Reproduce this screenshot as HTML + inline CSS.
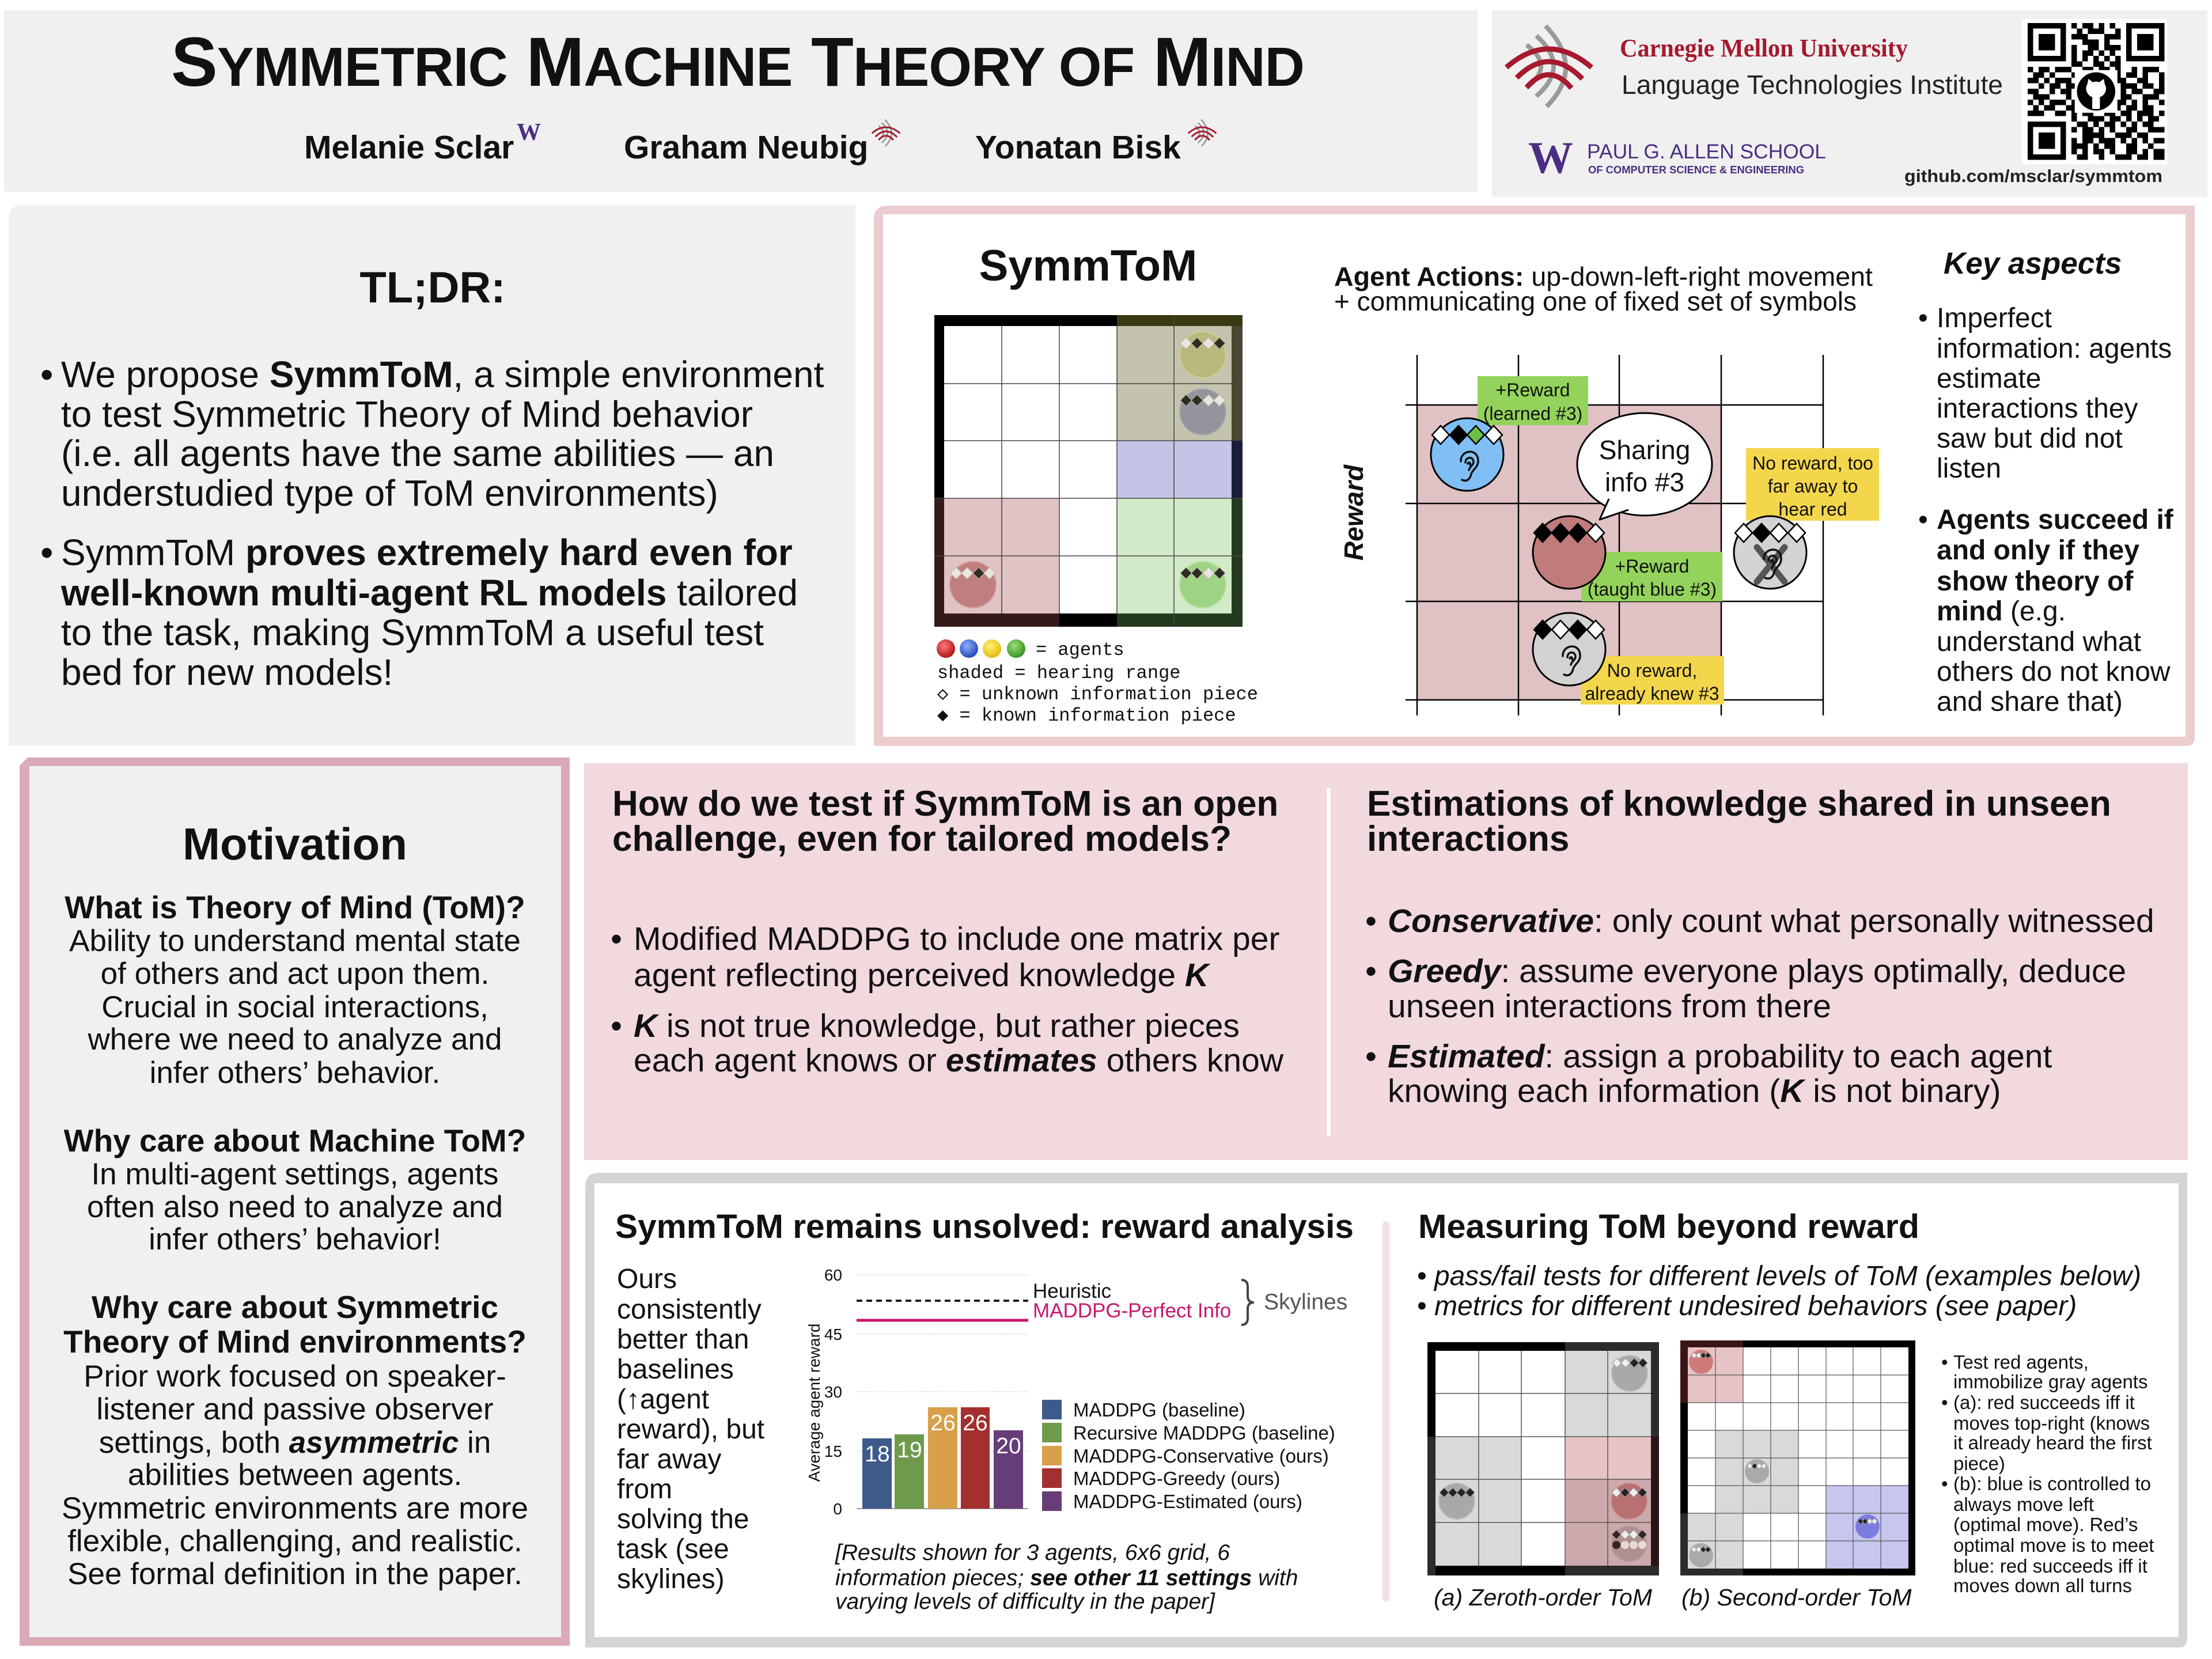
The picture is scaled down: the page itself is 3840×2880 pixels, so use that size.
<!DOCTYPE html>
<html><head><meta charset="utf-8">
<style>
html,body{margin:0;padding:0;background:#fff;}
svg{display:block;}
text{font-family:"Liberation Sans","DejaVu Sans",sans-serif;fill:#111;}
.mono{font-family:"Liberation Mono","DejaVu Sans Mono",monospace;}
.serif{font-family:"Liberation Serif","DejaVu Serif",serif;}
.b{font-weight:bold;}
.i{font-style:italic;}
</style></head><body>
<svg width="3840" height="2880" viewBox="0 0 3840 2880" xmlns="http://www.w3.org/2000/svg">
<defs>
 <g id="cmu" fill="none">
  <path d="M70 2 Q139 74 72 142" stroke="#9a9a9a" stroke-width="8"/>
  <path d="M54 19 Q114 72 54 124" stroke="#9a9a9a" stroke-width="8"/>
  <path d="M37 35 Q87 72 37 109" stroke="#9a9a9a" stroke-width="8"/>
  <path d="M2 74 Q75 10 150 74" stroke="#a6192e" stroke-width="9"/>
  <path d="M20 92 Q77 35 134 94" stroke="#a6192e" stroke-width="9"/>
  <path d="M37 109 Q76 64 115 110" stroke="#a6192e" stroke-width="9"/>
 </g>
 <g id="ear" fill="none" stroke="#111" stroke-width="3.5" stroke-linecap="round">
  <path d="M-13 -6 C-14 -26 16 -30 17 -8 C18 4 7 8 5 16 C3 25 -3 30 -11 26"/>
  <path d="M-5 -4 C-5 -15 9 -15 9 -5 C9 1 2 3 1 9"/>
  <path d="M-1 -2 C1 -6 4 -4 3 0"/>
 </g>
 <path id="dmL" d="M0 -16 L15 0 L0 16 L-15 0Z" stroke="#000" stroke-width="2.5"/>
 <path id="dmM" d="M0 -10 L10 0 L0 10 L-10 0Z"/>
 <path id="dmS" d="M0 -8 L8 0 L0 8 L-8 0Z"/>
 <path id="dmXS" d="M0 -5 L5 0 L0 5 L-5 0Z"/>
 <radialGradient id="gR" cx="40%" cy="35%" r="70%"><stop offset="0" stop-color="#ff7a7a"/><stop offset="1" stop-color="#a80f12"/></radialGradient>
 <radialGradient id="gB" cx="40%" cy="35%" r="70%"><stop offset="0" stop-color="#8fb0ff"/><stop offset="1" stop-color="#1d3fb8"/></radialGradient>
 <radialGradient id="gY" cx="40%" cy="35%" r="70%"><stop offset="0" stop-color="#fff27a"/><stop offset="1" stop-color="#e0b800"/></radialGradient>
 <radialGradient id="gG" cx="40%" cy="35%" r="70%"><stop offset="0" stop-color="#9be07a"/><stop offset="1" stop-color="#2f8c1c"/></radialGradient>
</defs>

<!-- ============ HEADER ============ -->
<rect x="7" y="18" width="2558" height="315" fill="#f0f0f0"/>
<rect x="2590" y="18" width="1242" height="324" fill="#f0f0f0"/>

<text x="297" y="149" class="b" font-size="121" textLength="1968" lengthAdjust="spacing">S<tspan font-size="96">YMMETRIC</tspan> M<tspan font-size="96">ACHINE</tspan> T<tspan font-size="96">HEORY OF</tspan> M<tspan font-size="96">IND</tspan></text>

<text x="528" y="275" class="b" font-size="57">Melanie Sclar</text>
<text x="897" y="243" class="serif b" font-size="42" style="fill:#4b2e83">W</text>
<text x="1083" y="275" class="b" font-size="57">Graham Neubig</text>
<use href="#cmu" transform="translate(1513,207) scale(0.33)"/>
<text x="1693" y="275" class="b" font-size="57">Yonatan Bisk</text>
<use href="#cmu" transform="translate(2062,207) scale(0.33)"/>

<use href="#cmu" transform="translate(2613,43)"/>
<text x="2812" y="98" class="serif b" font-size="44" textLength="500" lengthAdjust="spacingAndGlyphs" style="fill:#a6192e">Carnegie Mellon University</text>
<text x="2815" y="163" font-size="46" textLength="662" lengthAdjust="spacingAndGlyphs" style="fill:#222">Language Technologies Institute</text>
<text x="2653" y="300" class="serif b" font-size="78" style="fill:#4b2e83">W</text>
<text x="2755" y="275" font-size="35" textLength="415" lengthAdjust="spacingAndGlyphs" style="fill:#4b2e83">PAUL G. ALLEN SCHOOL</text>
<text x="2757" y="301" class="b" font-size="18" textLength="375" lengthAdjust="spacingAndGlyphs" style="fill:#4b2e83">OF COMPUTER SCIENCE &amp; ENGINEERING</text>

<rect x="3510" y="33" width="252" height="252" fill="#fff"/>
<g transform="translate(3520,40) scale(9.5)" fill="#000">
 <path fill-rule="evenodd" d="M0 0h7v7h-7zM1 1h5v5h-5zM2 2h3v3h-3zM18 0h7v7h-7zM19 1h5v5h-5zM20 2h3v3h-3zM0 18h7v7h-7zM1 19h5v5h-5zM2 20h3v3h-3z"/>
 <path d="M8 0h1v1h-1zM10 0h2v1h-2zM13 0h1v1h-1zM15 0h1v1h-1zM9 1h1v1h-1zM11 1h3v1h-3zM16 1h1v1h-1zM8 2h3v1h-3zM14 2h3v1h-3zM10 3h3v1h-3zM14 3h1v1h-1zM8 4h1v1h-1zM11 4h2v1h-2zM14 4h3v1h-3zM8 5h1v1h-1zM10 5h2v1h-2zM13 5h1v1h-1zM15 5h1v1h-1zM8 6h1v1h-1zM10 6h1v1h-1zM12 6h1v1h-1zM14 6h1v1h-1zM16 6h1v1h-1zM8 7h2v1h-2zM12 7h2v1h-2zM15 7h2v1h-2zM0 8h1v1h-1zM2 8h2v1h-2zM5 8h3v1h-3zM10 8h2v1h-2zM13 8h2v1h-2zM16 8h1v1h-1zM19 8h1v1h-1zM21 8h3v1h-3zM1 9h2v1h-2zM4 9h1v1h-1zM8 9h3v1h-3zM12 9h1v1h-1zM15 9h2v1h-2zM18 9h2v1h-2zM21 9h1v1h-1zM24 9h1v1h-1zM0 10h2v1h-2zM3 10h1v1h-1zM5 10h3v1h-3zM11 10h4v1h-4zM16 10h2v1h-2zM20 10h2v1h-2zM24 10h1v1h-1zM2 11h1v1h-1zM4 11h2v1h-2zM7 11h3v1h-3zM17 11h3v1h-3zM21 11h2v1h-2zM24 11h1v1h-1zM0 12h2v1h-2zM4 12h1v1h-1zM6 12h2v1h-2zM17 12h1v1h-1zM19 12h2v1h-2zM23 12h2v1h-2zM1 13h3v1h-3zM7 13h1v1h-1zM17 13h2v1h-2zM21 13h3v1h-3zM0 14h1v1h-1zM2 14h1v1h-1zM4 14h3v1h-3zM8 14h2v1h-2zM16 14h2v1h-2zM19 14h1v1h-1zM21 14h1v1h-1zM24 14h1v1h-1zM1 15h1v1h-1zM3 15h2v1h-2zM7 15h3v1h-3zM11 15h3v1h-3zM15 15h2v1h-2zM18 15h2v1h-2zM21 15h2v1h-2zM0 16h3v1h-3zM5 16h2v1h-2zM8 16h1v1h-1zM10 16h2v1h-2zM14 16h2v1h-2zM17 16h2v1h-2zM20 16h3v1h-3zM24 16h1v1h-1zM8 17h1v1h-1zM11 17h3v1h-3zM15 17h2v1h-2zM18 17h1v1h-1zM20 17h1v1h-1zM22 17h2v1h-2zM9 18h2v1h-2zM12 18h1v1h-1zM14 18h2v1h-2zM17 18h1v1h-1zM19 18h1v1h-1zM21 18h2v1h-2zM8 19h1v1h-1zM10 19h2v1h-2zM13 19h1v1h-1zM15 19h1v1h-1zM18 19h2v1h-2zM22 19h3v1h-3zM10 20h4v1h-4zM16 20h3v1h-3zM20 20h2v1h-2zM8 21h1v1h-1zM10 21h2v1h-2zM13 21h3v1h-3zM17 21h1v1h-1zM19 21h1v1h-1zM21 21h1v1h-1zM23 21h2v1h-2zM8 22h3v1h-3zM12 22h1v1h-1zM14 22h2v1h-2zM18 22h2v1h-2zM22 22h1v1h-1zM8 23h1v1h-1zM10 23h1v1h-1zM12 23h2v1h-2zM15 23h1v1h-1zM18 23h2v1h-2zM21 23h1v1h-1zM23 23h2v1h-2zM9 24h2v1h-2zM13 24h1v1h-1zM16 24h3v1h-3zM20 24h2v1h-2zM23 24h2v1h-2z"/>
 <rect x="8.6" y="8.6" width="7.8" height="7.8" fill="#fff"/>
 <circle cx="12.5" cy="12.5" r="3.5" fill="#000"/>
 <path d="M10.9 11.2 L11.1 10.2 L11.9 10.8 Q12.5 10.6 13.1 10.8 L13.9 10.2 L14.1 11.2 Q14.5 11.8 14.2 12.6 Q13.8 13.4 13.2 13.5 L13.2 15.7 L11.8 15.7 L11.8 13.5 Q11.2 13.4 10.8 12.6 Q10.5 11.8 10.9 11.2Z" fill="#fff"/>
</g>
<text x="3306" y="316" class="b" font-size="31" textLength="448" lengthAdjust="spacingAndGlyphs" style="fill:#222">github.com/msclar/symmtom</text>

<!-- ============ TL;DR ============ -->
<path d="M15 380 Q15 356 39 356 H1485 V1294 H15 Z" fill="#eff0f2"/>
<text x="751" y="525" class="b" font-size="76" text-anchor="middle">TL;DR:</text>
<g font-size="64">
 <text x="70" y="672">•</text>
 <text x="106" y="672">We propose <tspan class="b">SymmToM</tspan>, a simple environment</text>
 <text x="106" y="741">to test Symmetric Theory of Mind behavior</text>
 <text x="106" y="809">(i.e. all agents have the same abilities — an</text>
 <text x="106" y="878">understudied type of ToM environments)</text>
 <text x="70" y="981">•</text>
 <text x="106" y="981">SymmToM <tspan class="b">proves extremely hard even for</tspan></text>
 <text x="106" y="1051"><tspan class="b">well-known multi-agent RL models</tspan> tailored</text>
 <text x="106" y="1120">to the task, making SymmToM a useful test</text>
 <text x="106" y="1189">bed for new models!</text>
</g>

<!-- ============ SymmToM panel ============ -->
<path d="M1517 381 Q1517 357 1541 357 H3810 V1280 Q3810 1295 3795 1295 H1517 Z" fill="#ebcdd0"/>
<rect x="1533" y="372" width="2261" height="907" fill="#fff"/>
<text x="1889" y="487" class="b" font-size="76" text-anchor="middle">SymmToM</text>

<!-- grid -->
<rect x="1622" y="547" width="535" height="541" fill="#000"/>
<rect x="1939" y="547" width="218" height="19" fill="#3a3a12"/>
<rect x="2138" y="566" width="19" height="199" fill="#4a4632"/>
<rect x="2138" y="765" width="19" height="100" fill="#1b1b3b"/>
<rect x="2138" y="865" width="19" height="223" fill="#243a1e"/>
<rect x="1939" y="1065" width="218" height="23" fill="#243a1e"/>
<rect x="1622" y="865" width="17" height="223" fill="#351a1a"/>
<rect x="1622" y="1065" width="217" height="23" fill="#351a1a"/>
<rect x="1639" y="566" width="499" height="499" fill="#fff"/>
<rect x="1939" y="566" width="199" height="199" fill="#c4c3ad"/>
<rect x="1939" y="765" width="199" height="100" fill="#c4c4e6"/>
<rect x="1639" y="865" width="200" height="200" fill="#e0c3c5"/>
<rect x="1939" y="865" width="199" height="200" fill="#d2eac8"/>
<g stroke="#444" stroke-width="1.5">
 <line x1="1739" y1="566" x2="1739" y2="1065"/><line x1="1839" y1="566" x2="1839" y2="1065"/>
 <line x1="1939" y1="566" x2="1939" y2="1065"/><line x1="2038" y1="547" x2="2038" y2="1088"/>
 <line x1="1639" y1="666" x2="2138" y2="666"/><line x1="1639" y1="765" x2="2138" y2="765"/>
 <line x1="1622" y1="865" x2="2157" y2="865"/><line x1="1622" y1="965" x2="2157" y2="965"/>
</g>
<circle cx="2088" cy="616" r="40" fill="#b9b97b" stroke="#cfcf9a" stroke-width="2"/>
<circle cx="2088" cy="715" r="40" fill="#94949d" stroke="#aaaab0" stroke-width="2"/>
<circle cx="1689" cy="1015" r="40" fill="#c17e7e" stroke="#d09a9a" stroke-width="2"/>
<circle cx="2088" cy="1015" r="40" fill="#9fd487" stroke="#b5e0a0" stroke-width="2"/>
<g stroke="#bdb6ad" stroke-width="1">
 <use href="#dmM" x="2059" y="596" fill="#e9e5df"/><use href="#dmM" x="2078" y="596" fill="#2d2d20"/><use href="#dmM" x="2098" y="596" fill="#e9e5df"/><use href="#dmM" x="2117" y="596" fill="#2d2d20"/>
 <use href="#dmM" x="2059" y="695" fill="#2d2d20"/><use href="#dmM" x="2078" y="695" fill="#2d2d20"/><use href="#dmM" x="2098" y="695" fill="#e9e5df"/><use href="#dmM" x="2117" y="695" fill="#e9e5df"/>
 <use href="#dmM" x="1660" y="995" fill="#e9e5df"/><use href="#dmM" x="1679" y="995" fill="#e9e5df"/><use href="#dmM" x="1699" y="995" fill="#2d2d20"/><use href="#dmM" x="1718" y="995" fill="#e9e5df"/>
 <use href="#dmM" x="2059" y="995" fill="#2d2d20"/><use href="#dmM" x="2078" y="995" fill="#2d2d20"/><use href="#dmM" x="2098" y="995" fill="#e9e5df"/><use href="#dmM" x="2117" y="995" fill="#2d2d20"/>
</g>
<!-- legend -->
<circle cx="1642" cy="1126" r="16" fill="url(#gR)"/>
<circle cx="1682" cy="1126" r="16" fill="url(#gB)"/>
<circle cx="1722" cy="1126" r="16" fill="url(#gY)"/>
<circle cx="1764" cy="1126" r="16" fill="url(#gG)"/>
<g class="mono" font-size="32">
 <text x="1798" y="1137" class="mono">= agents</text>
 <text x="1627" y="1177" class="mono">shaded = hearing range</text>
 <text x="1627" y="1214" class="mono">◇ = unknown information piece</text>
 <text x="1627" y="1251" class="mono">◆ = known information piece</text>
</g>

<!-- agent actions -->
<text x="2316" y="496" font-size="46" textLength="935" lengthAdjust="spacingAndGlyphs"><tspan class="b">Agent Actions:</tspan> up-down-left-right movement</text>
<text x="2316" y="539" font-size="46" textLength="907" lengthAdjust="spacingAndGlyphs">+ communicating one of fixed set of symbols</text>

<!-- reward diagram -->
<rect x="2460" y="703" width="528" height="512" fill="#e0c2c4"/>
<g stroke="#000" stroke-width="2.5">
 <line x1="2460" y1="616" x2="2460" y2="1242"/><line x1="2636" y1="616" x2="2636" y2="1242"/>
 <line x1="2811" y1="616" x2="2811" y2="1242"/><line x1="2988" y1="616" x2="2988" y2="1242"/>
 <line x1="3165" y1="616" x2="3165" y2="1242"/>
 <line x1="2440" y1="703" x2="3165" y2="703"/><line x1="2440" y1="874" x2="3165" y2="874"/>
 <line x1="2440" y1="1044" x2="3165" y2="1044"/><line x1="2440" y1="1215" x2="3165" y2="1215"/>
</g>
<text transform="translate(2366,890) rotate(-90)" class="b i" font-size="46" text-anchor="middle">Reward</text>

<rect x="2565" y="653" width="192" height="85" fill="#93d35b"/>
<rect x="2745" y="958" width="245" height="86" fill="#93d35b"/>
<rect x="3031" y="778" width="231" height="126" fill="#f4d64c"/>
<rect x="2744" y="1139" width="249" height="84" fill="#f4d64c"/>

<!-- speech bubble -->
<ellipse cx="2855" cy="806" rx="117" ry="89" fill="#fff" stroke="#000" stroke-width="3"/>
<path d="M2793 866 L2777 902 L2827 885" fill="#fff" stroke="#000" stroke-width="3" stroke-linejoin="round"/>
<text x="2855" y="797" font-size="46" text-anchor="middle">Sharing</text>
<text x="2855" y="853" font-size="46" text-anchor="middle">info #3</text>

<!-- agents -->
<circle cx="2547" cy="789" r="63" fill="#80bff5" stroke="#000" stroke-width="3"/>
<use href="#ear" x="2549" y="807"/>
<circle cx="2724" cy="959" r="63" fill="#c07b7b" stroke="#000" stroke-width="3"/>
<circle cx="3073" cy="959" r="63" fill="#d3d3d3" stroke="#000" stroke-width="3"/>
<g stroke="#555" stroke-width="11" stroke-linecap="round"><line x1="3050" y1="950" x2="3098" y2="1010"/><line x1="3098" y1="950" x2="3050" y2="1010"/></g>
<use href="#ear" x="3075" y="977"/>
<circle cx="2724" cy="1127" r="63" fill="#d3d3d3" stroke="#000" stroke-width="3"/>
<use href="#ear" x="2726" y="1145"/>

<use href="#dmL" x="2501" y="755" fill="#fff"/><use href="#dmL" x="2532" y="755" fill="#000"/><use href="#dmL" x="2562" y="755" fill="#6cc04a"/><use href="#dmL" x="2593" y="755" fill="#fff"/>
<use href="#dmL" x="2678" y="925" fill="#000"/><use href="#dmL" x="2709" y="925" fill="#000"/><use href="#dmL" x="2739" y="925" fill="#000"/><use href="#dmL" x="2770" y="925" fill="#fff"/>
<use href="#dmL" x="3027" y="925" fill="#fff"/><use href="#dmL" x="3058" y="925" fill="#000"/><use href="#dmL" x="3088" y="925" fill="#fff"/><use href="#dmL" x="3119" y="925" fill="#fff"/>
<use href="#dmL" x="2678" y="1093" fill="#000"/><use href="#dmL" x="2709" y="1093" fill="#fff"/><use href="#dmL" x="2739" y="1093" fill="#000"/><use href="#dmL" x="2770" y="1093" fill="#fff"/>

<g font-size="32" text-anchor="middle">
 <text x="2661" y="688">+Reward</text>
 <text x="2661" y="729">(learned #3)</text>
 <text x="2868" y="994">+Reward</text>
 <text x="2868" y="1034">(taught blue #3)</text>
 <text x="3147" y="815">No reward, too</text>
 <text x="3147" y="855">far away to</text>
 <text x="3147" y="895">hear red</text>
 <text x="2868" y="1175">No reward,</text>
 <text x="2868" y="1215">already knew #3</text>
</g>

<!-- key aspects -->
<text x="3374" y="475" class="b i" font-size="53">Key aspects</text>
<g font-size="48">
 <text x="3330" y="568">•</text>
 <text x="3362" y="568">Imperfect</text>
 <text x="3362" y="621">information: agents</text>
 <text x="3362" y="673">estimate</text>
 <text x="3362" y="725">interactions they</text>
 <text x="3362" y="777">saw but did not</text>
 <text x="3362" y="829">listen</text>
 <text x="3330" y="918">•</text>
 <text x="3362" y="918" class="b">Agents succeed if</text>
 <text x="3362" y="971" class="b">and only if they</text>
 <text x="3362" y="1025" class="b">show theory of</text>
 <text x="3362" y="1077"><tspan class="b">mind</tspan> (e.g.</text>
 <text x="3362" y="1130">understand what</text>
 <text x="3362" y="1182">others do not know</text>
 <text x="3362" y="1234">and share that)</text>
</g>

<!-- ============ Motivation ============ -->
<path d="M48 1315 H989 V2857 H34 V1329 Z" fill="#dca9b6"/>
<rect x="51" y="1330" width="923" height="1512" fill="#eff0f2"/>
<g text-anchor="middle">
 <text x="512" y="1492" class="b" font-size="78">Motivation</text>
 <text x="512" y="1594" class="b" font-size="55">What is Theory of Mind (ToM)?</text>
 <g font-size="53">
  <text x="512" y="1651">Ability to understand mental state</text>
  <text x="512" y="1708">of others and act upon them.</text>
  <text x="512" y="1766">Crucial in social interactions,</text>
  <text x="512" y="1822">where we need to analyze and</text>
  <text x="512" y="1880">infer others’ behavior.</text>
 </g>
 <text x="512" y="1999" class="b" font-size="55">Why care about Machine ToM?</text>
 <g font-size="53">
  <text x="512" y="2056">In multi-agent settings, agents</text>
  <text x="512" y="2113">often also need to analyze and</text>
  <text x="512" y="2169">infer others’ behavior!</text>
 </g>
 <text x="512" y="2288" class="b" font-size="55">Why care about Symmetric</text>
 <text x="512" y="2348" class="b" font-size="55">Theory of Mind environments?</text>
 <g font-size="53">
  <text x="512" y="2407">Prior work focused on speaker-</text>
  <text x="512" y="2464">listener and passive observer</text>
  <text x="512" y="2522">settings, both <tspan class="b i">asymmetric</tspan> in</text>
  <text x="512" y="2578">abilities between agents.</text>
  <text x="512" y="2636">Symmetric environments are more</text>
  <text x="512" y="2693">flexible, challenging, and realistic.</text>
  <text x="512" y="2750">See formal definition in the paper.</text>
 </g>
</g>

<!-- ============ Middle pink panel ============ -->
<rect x="1014" y="1325" width="2784" height="689" fill="#f2d9de"/>
<rect x="2303" y="1368" width="7" height="604" fill="#fff" opacity="0.9"/>
<text x="1063" y="1416" class="b" font-size="62">How do we test if SymmToM is an open</text>
<text x="1063" y="1477" class="b" font-size="62">challenge, even for tailored models?</text>
<g font-size="57">
 <text x="1060" y="1649">•</text>
 <text x="1100" y="1649">Modified MADDPG to include one matrix per</text>
 <text x="1100" y="1712">agent reflecting perceived knowledge <tspan class="b i">K</tspan></text>
 <text x="1060" y="1800">•</text>
 <text x="1100" y="1800"><tspan class="b i">K</tspan> is not true knowledge, but rather pieces</text>
 <text x="1100" y="1860">each agent knows or <tspan class="b i">estimates</tspan> others know</text>
</g>
<text x="2373" y="1416" class="b" font-size="62">Estimations of knowledge shared in unseen</text>
<text x="2373" y="1477" class="b" font-size="62">interactions</text>
<g font-size="57">
 <text x="2370" y="1618">•</text>
 <text x="2409" y="1618"><tspan class="b i">Conservative</tspan>: only count what personally witnessed</text>
 <text x="2370" y="1705">•</text>
 <text x="2409" y="1705"><tspan class="b i">Greedy</tspan>: assume everyone plays optimally, deduce</text>
 <text x="2409" y="1766">unseen interactions from there</text>
 <text x="2370" y="1853">•</text>
 <text x="2409" y="1853"><tspan class="b i">Estimated</tspan>: assign a probability to each agent</text>
 <text x="2409" y="1913">knowing each information (<tspan class="b i">K</tspan> is not binary)</text>
</g>

<!-- ============ Bottom panel ============ -->
<path d="M1016 2060 Q1016 2036 1040 2036 H3797 V2845 Q3797 2860 3782 2860 H1016 Z" fill="#d4d4d4"/>
<rect x="1032" y="2054" width="2750" height="788" fill="#fff"/>
<rect x="2400" y="2120" width="12" height="660" rx="6" fill="#f3e0e4"/>

<text x="1068" y="2149" class="b" font-size="58" textLength="1282" lengthAdjust="spacingAndGlyphs">SymmToM remains unsolved: reward analysis</text>
<g font-size="48">
 <text x="1071" y="2236">Ours</text>
 <text x="1071" y="2289">consistently</text>
 <text x="1071" y="2341">better than</text>
 <text x="1071" y="2393">baselines</text>
 <text x="1071" y="2445">(↑agent</text>
 <text x="1071" y="2497">reward), but</text>
 <text x="1071" y="2549">far away</text>
 <text x="1071" y="2601">from</text>
 <text x="1071" y="2653">solving the</text>
 <text x="1071" y="2705">task (see</text>
 <text x="1071" y="2757">skylines)</text>
</g>

<!-- chart -->
<g stroke="#cfcfcf" stroke-width="1.5" stroke-dasharray="2 3">
 <line x1="1487" y1="2213" x2="1785" y2="2213"/><line x1="1487" y1="2316" x2="1785" y2="2316"/>
 <line x1="1487" y1="2416" x2="1785" y2="2416"/><line x1="1487" y1="2519" x2="1785" y2="2519"/>
</g>
<line x1="1487" y1="2619" x2="1785" y2="2619" stroke="#999" stroke-width="2"/>
<g font-size="28" text-anchor="end" style="fill:#333">
 <text x="1462" y="2223">60</text><text x="1462" y="2326">45</text><text x="1462" y="2426">30</text><text x="1462" y="2529">15</text><text x="1462" y="2629">0</text>
</g>
<text transform="translate(1423,2435) rotate(-90)" font-size="28" text-anchor="middle">Average agent reward</text>
<line x1="1487" y1="2258" x2="1785" y2="2258" stroke="#000" stroke-width="3.5" stroke-dasharray="10 7"/>
<line x1="1487" y1="2292" x2="1785" y2="2292" stroke="#c8176e" stroke-width="5"/>
<rect x="1497" y="2497" width="51" height="122" fill="#3e5a8b"/>
<rect x="1553" y="2490" width="51" height="129" fill="#6e9a4c"/>
<rect x="1611" y="2443" width="51" height="176" fill="#d8a04a"/>
<rect x="1668" y="2443" width="50" height="176" fill="#a3302f"/>
<rect x="1725" y="2483" width="51" height="136" fill="#663d78"/>
<g font-size="39" text-anchor="middle" style="fill:#fff">
 <text x="1523" y="2537" style="fill:#fff">18</text>
 <text x="1579" y="2530" style="fill:#fff">19</text>
 <text x="1637" y="2483" style="fill:#fff">26</text>
 <text x="1693" y="2483" style="fill:#fff">26</text>
 <text x="1751" y="2523" style="fill:#fff">20</text>
</g>
<text x="1793" y="2253" font-size="35">Heuristic</text>
<text x="1793" y="2287" font-size="35" style="fill:#c8176e">MADDPG-Perfect Info</text>
<path d="M2155 2222 Q2166 2222 2166 2234 L2166 2250 Q2166 2261 2177 2261 Q2166 2261 2166 2272 L2166 2288 Q2166 2300 2155 2300" fill="none" stroke="#444" stroke-width="4"/>
<text x="2194" y="2273" font-size="39" style="fill:#555">Skylines</text>

<rect x="1809" y="2430" width="34" height="34" fill="#3e5a8b"/>
<rect x="1809" y="2470" width="34" height="34" fill="#6e9a4c"/>
<rect x="1809" y="2510" width="34" height="34" fill="#d8a04a"/>
<rect x="1809" y="2549" width="34" height="34" fill="#a3302f"/>
<rect x="1809" y="2589" width="34" height="34" fill="#663d78"/>
<g font-size="33">
 <text x="1863" y="2459">MADDPG (baseline)</text>
 <text x="1863" y="2499">Recursive MADDPG (baseline)</text>
 <text x="1863" y="2539">MADDPG-Conservative (ours)</text>
 <text x="1863" y="2578">MADDPG-Greedy (ours)</text>
 <text x="1863" y="2618">MADDPG-Estimated (ours)</text>
</g>
<g font-size="39" class="i">
 <text x="1450" y="2708" class="i">[Results shown for 3 agents, 6x6 grid, 6</text>
 <text x="1450" y="2752" class="i">information pieces; <tspan class="b">see other 11 settings</tspan> with</text>
 <text x="1450" y="2793" class="i">varying levels of difficulty in the paper]</text>
</g>

<!-- Measuring ToM -->
<text x="2462" y="2149" class="b" font-size="58" textLength="870" lengthAdjust="spacingAndGlyphs">Measuring ToM beyond reward</text>
<g font-size="48">
 <text x="2460" y="2231">•</text>
 <text x="2490" y="2231" class="i" textLength="1227" lengthAdjust="spacingAndGlyphs">pass/fail tests for different levels of ToM (examples below)</text>
 <text x="2460" y="2283">•</text>
 <text x="2490" y="2283" class="i">metrics for different undesired behaviors (see paper)</text>
</g>

<!-- grid (a) -->
<rect x="2478" y="2330" width="402" height="405" fill="#000"/>
<rect x="2717" y="2330" width="163" height="15" fill="#2b2b2b"/>
<rect x="2866" y="2330" width="14" height="164" fill="#2b2b2b"/>
<rect x="2866" y="2494" width="14" height="241" fill="#2a1416"/>
<rect x="2478" y="2494" width="14" height="241" fill="#2b2b2b"/>
<rect x="2717" y="2718" width="163" height="17" fill="#2b2b2b"/>
<rect x="2492" y="2345" width="374" height="373" fill="#fff"/>
<rect x="2717" y="2345" width="149" height="149" fill="#d9d9d9"/>
<rect x="2492" y="2494" width="149" height="224" fill="#d9d9d9"/>
<rect x="2717" y="2494" width="149" height="74" fill="#e6c4c6"/>
<rect x="2717" y="2568" width="149" height="150" fill="#cca9ac"/>
<g stroke="#555" stroke-width="1.5">
 <line x1="2567" y1="2345" x2="2567" y2="2718"/><line x1="2641" y1="2345" x2="2641" y2="2718"/>
 <line x1="2717" y1="2345" x2="2717" y2="2718"/><line x1="2791" y1="2345" x2="2791" y2="2718"/>
 <line x1="2492" y1="2419" x2="2866" y2="2419"/><line x1="2492" y1="2494" x2="2866" y2="2494"/>
 <line x1="2492" y1="2568" x2="2866" y2="2568"/><line x1="2492" y1="2643" x2="2866" y2="2643"/>
</g>
<circle cx="2829" cy="2384" r="31" fill="#a9a9a9" stroke="#bbb" stroke-width="2"/>
<circle cx="2529" cy="2606" r="31" fill="#a9a9a9" stroke="#bbb" stroke-width="2"/>
<circle cx="2828" cy="2606" r="31" fill="#b87070" stroke="#c98d8d" stroke-width="2"/>
<circle cx="2828" cy="2680" r="31" fill="#b08f90" stroke="#c0a0a0" stroke-width="2"/>
<g stroke="#999" stroke-width="1">
 <use href="#dmS" x="2807" y="2366" fill="#eee"/><use href="#dmS" x="2822" y="2366" fill="#eee"/><use href="#dmS" x="2837" y="2366" fill="#222"/><use href="#dmS" x="2852" y="2366" fill="#222"/>
 <use href="#dmS" x="2507" y="2591" fill="#222"/><use href="#dmS" x="2522" y="2591" fill="#222"/><use href="#dmS" x="2537" y="2591" fill="#222"/><use href="#dmS" x="2552" y="2591" fill="#222"/>
 <use href="#dmS" x="2806" y="2591" fill="#eee"/><use href="#dmS" x="2821" y="2591" fill="#222"/><use href="#dmS" x="2836" y="2591" fill="#eee"/><use href="#dmS" x="2851" y="2591" fill="#222"/>
 <use href="#dmS" x="2806" y="2664" fill="#3a2224"/><use href="#dmS" x="2821" y="2664" fill="#eee"/><use href="#dmS" x="2836" y="2664" fill="#eee"/><use href="#dmS" x="2851" y="2664" fill="#3a2224"/>
</g>
<circle cx="2806" cy="2682" r="7" fill="#3a2224"/><circle cx="2821" cy="2682" r="7" fill="#e8dada"/><circle cx="2836" cy="2682" r="7" fill="#e8dada"/><circle cx="2851" cy="2682" r="7" fill="#e8dada"/>
<text x="2489" y="2787" class="i" font-size="41">(a) Zeroth-order ToM</text>

<!-- grid (b) -->
<rect x="2917" y="2327" width="408" height="408" fill="#000"/>
<rect x="2917" y="2327" width="109" height="12" fill="#3a1517"/>
<rect x="2917" y="2327" width="13" height="108" fill="#3a1517"/>
<rect x="2917" y="2627" width="13" height="108" fill="#2b2b2b"/>
<rect x="2917" y="2723" width="109" height="12" fill="#2b2b2b"/>
<rect x="2930" y="2339" width="383" height="384" fill="#fff"/>
<rect x="2930" y="2339" width="96" height="96" fill="#e6c4c6"/>
<rect x="2978" y="2483" width="144" height="144" fill="#d9d9d9"/>
<rect x="2930" y="2627" width="96" height="96" fill="#d9d9d9"/>
<rect x="3170" y="2579" width="143" height="144" fill="#c6c6ef"/>
<g stroke="#555" stroke-width="1.2">
 <line x1="2978" y1="2339" x2="2978" y2="2723"/><line x1="3026" y1="2339" x2="3026" y2="2723"/>
 <line x1="3074" y1="2339" x2="3074" y2="2723"/><line x1="3122" y1="2339" x2="3122" y2="2723"/>
 <line x1="3170" y1="2339" x2="3170" y2="2723"/><line x1="3217" y1="2339" x2="3217" y2="2723"/>
 <line x1="3265" y1="2339" x2="3265" y2="2723"/>
 <line x1="2930" y1="2387" x2="3313" y2="2387"/><line x1="2930" y1="2435" x2="3313" y2="2435"/>
 <line x1="2930" y1="2483" x2="3313" y2="2483"/><line x1="2930" y1="2531" x2="3313" y2="2531"/>
 <line x1="2930" y1="2579" x2="3313" y2="2579"/><line x1="2930" y1="2627" x2="3313" y2="2627"/>
 <line x1="2930" y1="2675" x2="3313" y2="2675"/>
</g>
<circle cx="2953" cy="2364" r="21" fill="#d07a7a"/>
<circle cx="3050" cy="2554" r="21" fill="#aaa"/>
<circle cx="3242" cy="2650" r="21" fill="#7c7ce0"/>
<circle cx="2953" cy="2700" r="21" fill="#aaa"/>
<g stroke="#999" stroke-width="0.8">
 <use href="#dmXS" x="2941" y="2353" fill="#eee"/><use href="#dmXS" x="2949" y="2353" fill="#eee"/><use href="#dmXS" x="2957" y="2353" fill="#222"/><use href="#dmXS" x="2965" y="2353" fill="#222"/>
 <use href="#dmXS" x="3038" y="2545" fill="#eee"/><use href="#dmXS" x="3046" y="2545" fill="#222"/><use href="#dmXS" x="3054" y="2545" fill="#eee"/><use href="#dmXS" x="3062" y="2545" fill="#eee"/>
 <use href="#dmXS" x="3230" y="2641" fill="#222"/><use href="#dmXS" x="3238" y="2641" fill="#222"/><use href="#dmXS" x="3246" y="2641" fill="#eee"/><use href="#dmXS" x="3254" y="2641" fill="#eee"/>
 <use href="#dmXS" x="2941" y="2690" fill="#eee"/><use href="#dmXS" x="2949" y="2690" fill="#eee"/><use href="#dmXS" x="2957" y="2690" fill="#222"/><use href="#dmXS" x="2965" y="2690" fill="#222"/>
</g>
<text x="2919" y="2787" class="i" font-size="41">(b) Second-order ToM</text>

<g font-size="33">
 <text x="3370" y="2376">•</text>
 <text x="3391" y="2376">Test red agents,</text>
 <text x="3391" y="2410">immobilize gray agents</text>
 <text x="3370" y="2446">•</text>
 <text x="3391" y="2446">(a): red succeeds iff it</text>
 <text x="3391" y="2482">moves top-right (knows</text>
 <text x="3391" y="2516">it already heard the first</text>
 <text x="3391" y="2552">piece)</text>
 <text x="3370" y="2587">•</text>
 <text x="3391" y="2587">(b): blue is controlled to</text>
 <text x="3391" y="2623">always move left</text>
 <text x="3391" y="2658">(optimal move). Red’s</text>
 <text x="3391" y="2694">optimal move is to meet</text>
 <text x="3391" y="2730">blue: red succeeds iff it</text>
 <text x="3391" y="2764">moves down all turns</text>
</g>
</svg>
</body></html>
